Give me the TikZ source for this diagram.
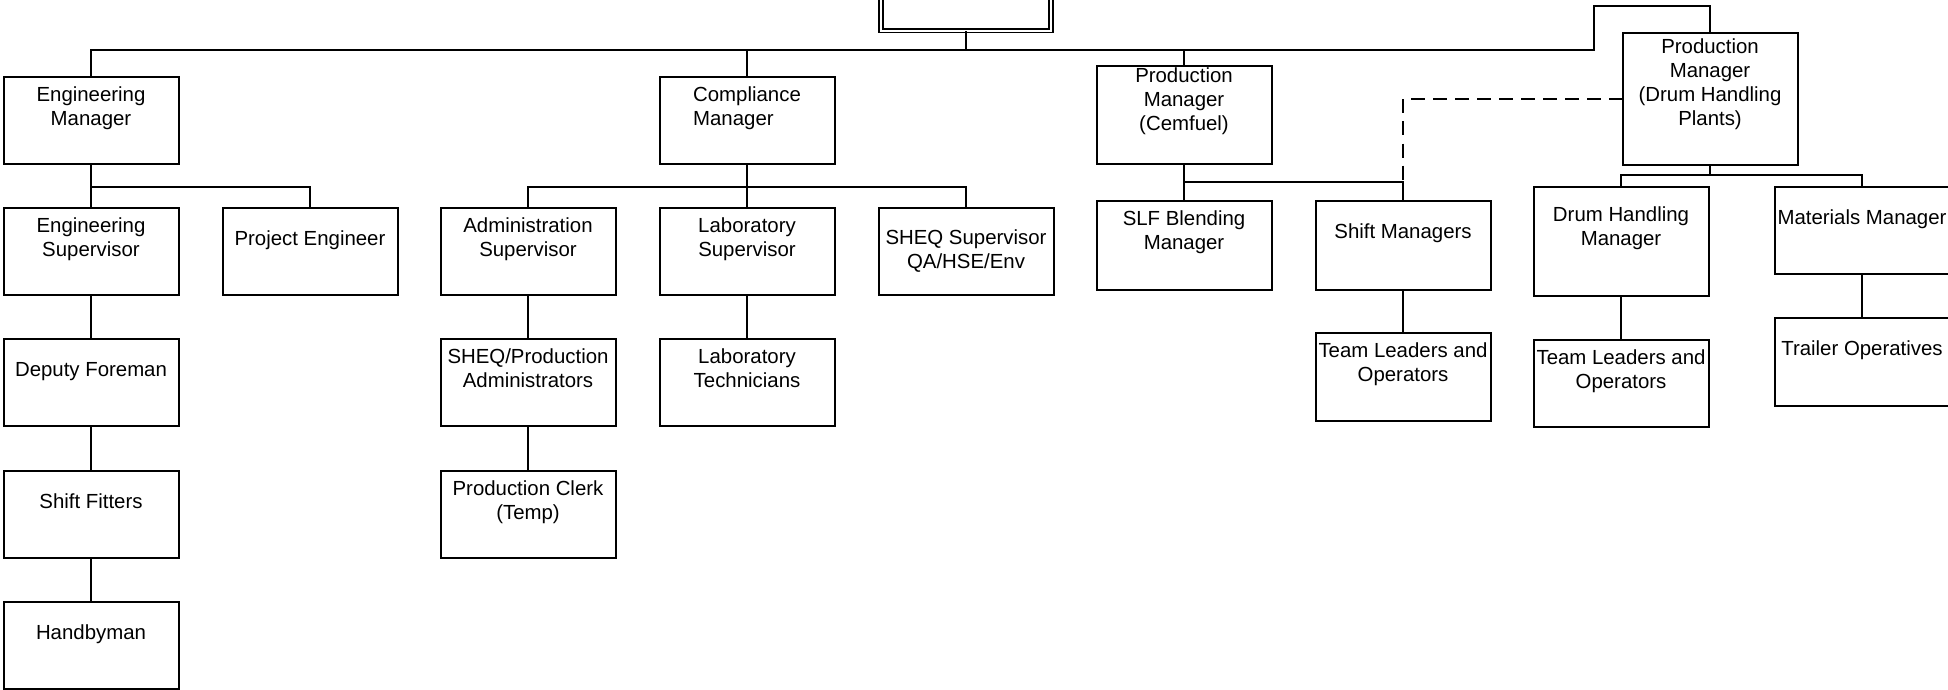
\documentclass[tikz,border=0pt]{standalone}
\usepackage{fontspec}
\setmainfont{Liberation Sans}
\tikzset{
  obox/.style={draw, line width=2pt, inner sep=0pt, outer sep=0pt, fill=white},
  olbl/.style={inner sep=0pt, outer sep=0pt, font=\fontsize{20.4}{24}\selectfont,
    execute at begin node=\strut, execute at end node=\strut},
  conn/.style={line width=2pt},
  dashconn/.style={line width=2pt, dash pattern=on 14pt off 8pt},
  rootbox/.style={draw, double, line width=1.4pt, double distance=2.4pt, inner sep=0pt, fill=white}
}
% #1 align, #2 name, #3 centre x, #4 top y, #5 width, #6 height, #7 label offset, #8 text
\newcommand\orgbox[8][center]{%
  \node[obox, minimum width=#5pt, minimum height=#6pt, anchor=north] (#2) at (#3,#4) {};
  \node[olbl, align=#1] (#2-t) at (#3,{#4+#7}) {#8};
}
\begin{document}
\begin{tikzpicture}[x=1pt,y=-1pt]
\useasboundingbox (0,0) rectangle (1948,690);
\clip (0,0) rectangle (1948,690);

% root
\node[rootbox, minimum width=170pt, minimum height=100pt, anchor=south] (root) at (966,31.5) {};

% level 1
\orgbox{em}{91}{77}{175}{87}{33}{Engineering\\Manager}
\orgbox[left]{cm}{747}{77}{175}{87}{33}{Compliance\\Manager}
\orgbox{pmc}{1184}{66}{175}{98}{37}{Production\\Manager\\(Cemfuel)}
\orgbox{pmd}{1710}{33}{175}{132}{53}{Production\\Manager\\(Drum Handling\\Plants)}

% engineering
\orgbox{es}{91}{208}{175}{87}{33}{Engineering\\Supervisor}
\orgbox{ps}{310}{208}{175}{87}{33}{Project Engineer}
\orgbox{df}{91}{339}{175}{87}{33}{Deputy Foreman}
\orgbox{sf}{91}{471}{175}{87}{33}{Shift Fitters}
\orgbox{hb}{91}{602}{175}{87}{33}{Handbyman}

% compliance
\orgbox{as}{528}{208}{175}{87}{33}{Administration\\Supervisor}
\orgbox{ls}{747}{208}{175}{87}{33}{Laboratory\\Supervisor}
\orgbox{sheq}{966}{208}{175}{87}{45}{SHEQ Supervisor\\QA/HSE/Env}
\orgbox{spa}{528}{339}{175}{87}{33}{SHEQ/Production\\Administrators}
\orgbox{lt}{747}{339}{175}{87}{33}{Laboratory\\Technicians}
\orgbox{pc}{528}{471}{175}{87}{33}{Production Clerk\\(Temp)}

% cemfuel
\orgbox{slf}{1184}{201}{175}{89}{33}{SLF Blending\\Manager}
\orgbox{shm}{1403}{201}{175}{89}{33}{Shift Managers}
\orgbox{tla}{1403}{333}{175}{88}{33}{Team Leaders and\\Operators}

% drum handling
\orgbox{dhm}{1621}{187}{175}{109}{43}{Drum Handling\\Manager}
\orgbox{mm}{1862}{187}{175}{87}{33}{Materials Manager}
\orgbox{tlb}{1621}{340}{175}{87}{33}{Team Leaders and\\Operators}
\orgbox{to}{1862}{318}{175}{88}{33}{Trailer Operatives}

% bus coordinates
\coordinate (bus) at (0,50);
\coordinate (elb) at (1594,6);
\coordinate (eb) at (0,187);
\coordinate (cb) at (0,182);
\coordinate (db) at (0,175);

% top level
\draw[conn] (root.south) -- (root.south |- bus);
\draw[conn] (em.north) -- (em.north |- bus) -| (elb) -| (pmd.north);
\draw[conn] (cm.north) -- (cm.north |- bus);
\draw[conn] (pmc.north) -- (pmc.north |- bus);

% engineering
\draw[conn] (em.south) -- (es.north);
\draw[conn] (em.south |- eb) -| (ps.north);
\draw[conn] (es.south) -- (df.north);
\draw[conn] (df.south) -- (sf.north);
\draw[conn] (sf.south) -- (hb.north);

% compliance
\draw[conn] (cm.south) -- (ls.north);
\draw[conn] (as.north) |- (sheq.north |- eb) -- (sheq.north);
\draw[conn] (as.south) -- (spa.north);
\draw[conn] (spa.south) -- (pc.north);
\draw[conn] (ls.south) -- (lt.north);

% cemfuel
\draw[conn] (pmc.south) -- (slf.north);
\draw[conn] (pmc.south |- cb) -| (shm.north);
\draw[conn] (shm.south) -- (tla.north);
\draw[dashconn] (pmd.west) -| (shm.north |- cb);

% drum handling
\draw[conn] (pmd.south) -- (pmd.south |- db);
\draw[conn] (dhm.north) |- (mm.north |- db) -- (mm.north);
\draw[conn] (dhm.south) -- (tlb.north);
\draw[conn] (mm.south) -- (to.north);
\end{tikzpicture}
\end{document}
